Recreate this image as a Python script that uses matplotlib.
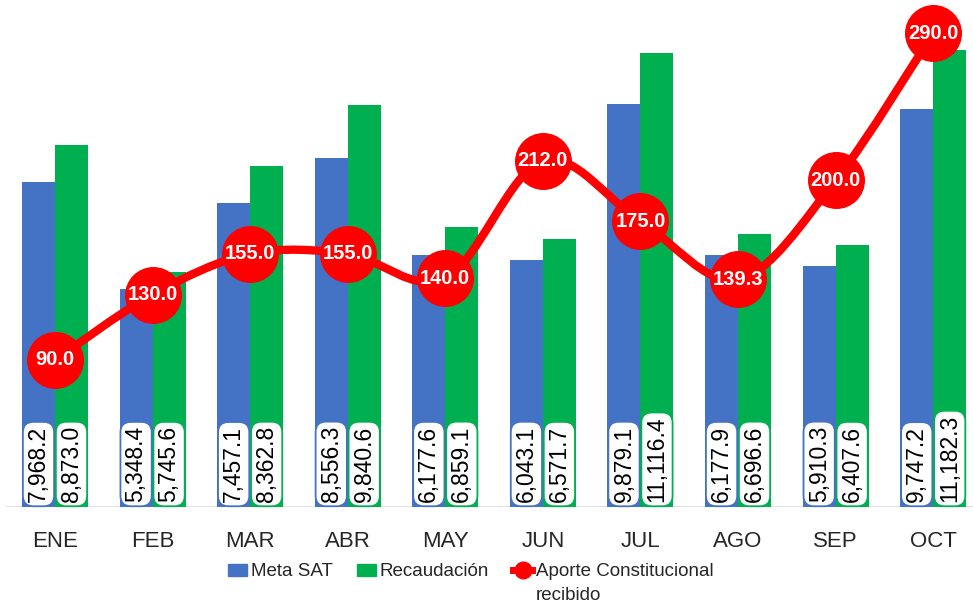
import matplotlib
matplotlib.use("Agg")
import matplotlib.pyplot as plt
import numpy as np
from matplotlib.path import Path
from matplotlib.patches import PathPatch, Patch
from matplotlib.lines import Line2D

plt.rcParams['font.family'] = ['Liberation Sans', 'DejaVu Sans']

months = ["ENE", "FEB", "MAR", "ABR", "MAY", "JUN", "JUL", "AGO", "SEP", "OCT"]
meta_sat = [7968.2, 5348.4, 7457.1, 8556.3, 6177.6, 6043.1, 9879.1, 6177.9, 5910.3, 9747.2]
recaudacion = [8873.0, 5745.6, 8362.8, 9840.6, 6859.1, 6571.7, 11116.4, 6696.6, 6407.6, 11182.3]
aporte = [90.0, 130.0, 155.0, 155.0, 140.0, 212.0, 175.0, 139.3, 200.0, 290.0]

BLUE = "#4472C4"
GREEN = "#00B050"
RED = "#FF0000"

W, H = 973, 606
fig = plt.figure(figsize=(W / 100, H / 100), dpi=100)
ax_left, ax_right = 6.2, 982.0
ax_top, ax_bottom = 17.0, 507.0
ax = fig.add_axes([ax_left / W, 1 - ax_bottom / H, (ax_right - ax_left) / W, (ax_bottom - ax_top) / H])
ax2 = ax.twinx()

x = np.arange(len(months))
bw = 0.338
ax.bar(x - bw / 2, meta_sat, bw, color=BLUE, zorder=2)
ax.bar(x + bw / 2, recaudacion, bw, color=GREEN, zorder=2)
ax.set_xlim(-0.5, len(months) - 0.5)
ax.set_ylim(0, 12000)
ax2.set_ylim(0, 300)
ax.axhline(0, color="#D9D9D9", lw=1.2, zorder=1)

for a in (ax, ax2):
    for s in a.spines.values():
        s.set_visible(False)
    a.set_yticks([])
ax.set_xticks(x)
ax.set_xticklabels(months, fontsize=16, color="#262626")
ax.tick_params(axis="x", length=0, pad=17)

# value labels at bottom of bars
for vals, off, col in ((meta_sat, -bw / 2, BLUE), (recaudacion, bw / 2, GREEN)):
    for xi, v in zip(x, vals):
        ax.annotate(f"{v:,.1f}", xy=(xi + off, 0), xytext=(0, 3.5), textcoords="offset points",
                    rotation=90, ha="center", va="bottom", fontsize=16.5, color="black", zorder=3,
                    bbox=dict(boxstyle="round,pad=0.18,rounding_size=0.45", fc="white", ec=col, lw=1.3))

# smooth line (Catmull-Rom -> cubic Bezier)
P = np.column_stack([x, aporte]).astype(float)
n = len(P)
verts = [tuple(P[0])]
codes = [Path.MOVETO]
for i in range(n - 1):
    p0 = P[max(i - 1, 0)]
    p1 = P[i]
    p2 = P[i + 1]
    p3 = P[min(i + 2, n - 1)]
    c1 = p1 + (p2 - p0) / 6
    c2 = p2 - (p3 - p1) / 6
    verts += [tuple(c1), tuple(c2), tuple(p2)]
    codes += [Path.CURVE4] * 3
ax2.add_patch(PathPatch(Path(verts, codes), fc="none", ec=RED, lw=6, zorder=4, clip_on=False,
                        capstyle="round", joinstyle="round"))
ax2.plot(x, aporte, linestyle="none", marker="o", markersize=40, color=RED, zorder=5, clip_on=False)
for xi, v in zip(x, aporte):
    ax2.text(xi, v, f"{v:.1f}", ha="center", va="center", color="white", fontsize=14.5,
             fontweight="bold", zorder=6)

handles = [Patch(color=BLUE), Patch(color=GREEN),
           Line2D([], [], color=RED, lw=5, marker="o", markersize=12)]
labels = ["Meta SAT", "Recaudación", "Aporte Constitucional"]
leg = fig.legend(handles, labels, loc="center", bbox_to_anchor=(471 / W, 1 - 572 / H), ncol=3,
                 frameon=False, fontsize=13.5, handlelength=1.0, handleheight=0.55,
                 handletextpad=0.2, columnspacing=1.3, labelcolor="#262626")
fig.canvas.draw()
t = leg.get_texts()[2]
bb = t.get_window_extent()
fig.text(bb.x0 / W, (bb.y0 - 6) / H, "recibido", ha="left", va="top", fontsize=13.5, color="#262626")

fig.savefig("out.png", dpi=100)
